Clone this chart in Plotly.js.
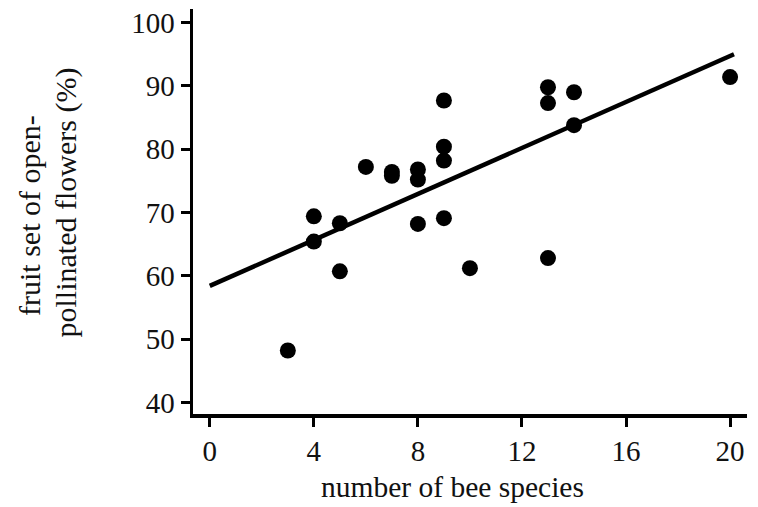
<!DOCTYPE html>
<html>
<head>
<meta charset="utf-8">
<script src="https://cdn.plot.ly/plotly-3.0.1.min.js"></script>
<style>html,body{margin:0;padding:0;background:#fff;}#chart{width:758px;height:507px;}</style>
</head>
<body>
<div id="chart"></div>
<script>
// Data
const beeSpecies = [3, 4, 4, 5, 5, 6, 7, 7, 8, 8, 8, 9, 9, 9, 9, 10, 13, 13, 13, 14, 14, 20];
const fruitSet   = [48.2, 69.4, 65.4, 68.3, 60.7, 77.2, 76.4, 75.8, 76.8, 75.2, 68.2, 87.7, 80.4, 78.2, 69.1, 61.2, 89.8, 87.3, 62.8, 89.0, 83.8, 91.4];
const fitX = [0, 20.15];
const fitY = [58.4, 95.0];
const xTicks = [0, 4, 8, 12, 16, 20];
const yTicks = [40, 50, 60, 70, 80, 90, 100];
const xTitle = 'number of bee species';
const yTitleLines = ['fruit set of open-', 'pollinated flowers (%)'];

const fam = '"Liberation Serif", "Times New Roman", serif';
const tickFont = {family: fam, size: 29, color: '#111'};
const titleFont = {family: fam, size: 30, color: '#111'};
const xTitleFont = {family: fam, size: 29.5, color: '#111'};

const traces = [
  {x: fitX, y: fitY, mode: 'lines', line: {color: '#000', width: 4.5}, hoverinfo: 'skip', showlegend: false},
  {x: beeSpecies, y: fruitSet, mode: 'markers', marker: {color: '#000', size: 16}, showlegend: false}
];

const axisCommon = {
  showgrid: false, zeroline: false, showline: true, linecolor: '#000', linewidth: 3.5,
  ticks: 'outside', ticklen: 9, tickwidth: 3, tickcolor: '#000', tickfont: tickFont, tickmode: 'array'
};

const layout = {
  width: 758, height: 507,
  margin: {l: 193, r: 11, t: 9, b: 93},
  paper_bgcolor: '#fff', plot_bgcolor: '#fff',
  font: tickFont,
  xaxis: Object.assign({}, axisCommon, {range: [-0.645, 20.65], tickvals: xTicks, ticktext: xTicks.map(String)}),
  yaxis: Object.assign({}, axisCommon, {range: [38.16, 102.16], tickvals: yTicks, ticktext: yTicks.map(String)}),
  annotations: [
    {xref: 'paper', yref: 'paper', x: 0.469, y: (414 - 487) / 405, xanchor: 'center', yanchor: 'middle',
     text: xTitle, showarrow: false, font: xTitleFont},
    {xref: 'paper', yref: 'paper', x: (30 - 193) / 554, y: (414 - 216) / 405, xanchor: 'center', yanchor: 'middle',
     text: yTitleLines[0], textangle: -90, showarrow: false, font: titleFont},
    {xref: 'paper', yref: 'paper', x: (65 - 193) / 554, y: (414 - 202.5) / 405, xanchor: 'center', yanchor: 'middle',
     text: yTitleLines[1], textangle: -90, showarrow: false, font: titleFont}
  ]
};

Plotly.newPlot('chart', traces, layout, {displayModeBar: false, staticPlot: true});
</script>
</body>
</html>
